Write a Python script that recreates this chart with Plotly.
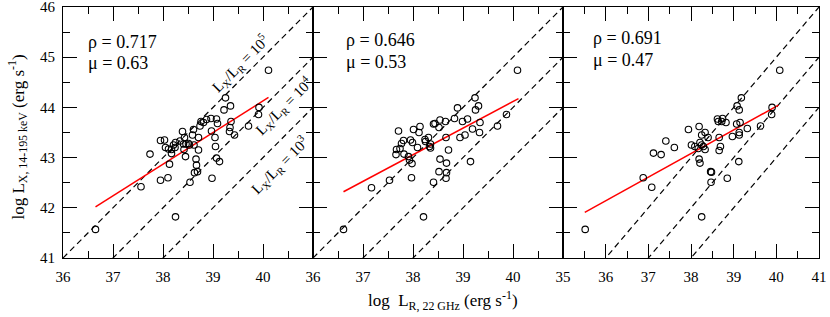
import plotly.graph_objects as go

# ---------------- data ----------------
x1 = [40.11, 39.25, 39.35, 39.22, 39.92, 39.91, 39.71, 39.36, 39.34, 39.33, 39.43, 38.76, 38.81, 38.87, 38.96,
      39.07, 39.09, 38.74, 38.61, 38.97, 38.39, 38.59, 38.71, 39.04, 37.95, 38.03, 38.25, 38.34, 38.43, 38.41,
      38.46, 38.51, 38.05, 38.11, 38.17, 38.24, 38.21, 38.42, 38.53, 38.62, 38.71, 39.05, 37.74, 38.17, 38.45,
      38.66, 39.07, 39.13, 38.13, 38.67, 38.63, 38.69, 37.95, 38.10, 38.54, 38.98, 37.56, 36.65, 38.25]
y1 = [44.74, 44.19, 44.03, 43.95, 44.00, 43.86, 43.63, 43.72, 43.60, 43.52, 43.45, 43.72, 43.70, 43.76, 43.78,
      43.77, 43.68, 43.63, 43.56, 43.53, 43.52, 43.45, 43.40, 43.40, 43.34, 43.35, 43.30, 43.33, 43.40, 43.27,
      43.27, 43.28, 43.20, 43.17, 43.16, 43.20, 43.25, 43.16, 43.25, 43.25, 43.15, 43.22, 43.07, 43.08, 43.02,
      42.97, 42.99, 42.92, 42.87, 42.85, 42.70, 42.72, 42.55, 42.60, 42.51, 42.59, 42.42, 41.57, 41.82]

x2 = [40.09, 39.24, 39.31, 39.25, 39.87, 39.69, 38.89, 39.09, 38.99, 38.83, 38.65, 38.54, 38.41, 38.44, 38.14,
      38.52, 39.34, 39.19, 39.33, 39.04, 38.94, 38.66, 38.01, 38.12, 37.71, 38.31, 38.24, 38.25, 37.81, 37.77,
      37.95, 37.99, 38.35, 38.33, 38.35, 38.09, 37.67, 37.74, 37.66, 37.82, 37.91, 37.93, 38.71, 37.98, 38.54,
      38.67, 39.15, 38.52, 38.67, 38.66, 37.97, 38.41, 37.53, 37.17, 36.61, 38.21]
y2 = [44.74, 44.19, 44.03, 43.95, 43.86, 43.63, 43.99, 43.77, 43.72, 43.78, 43.72, 43.75, 43.67, 43.68, 43.62,
      43.60, 43.70, 43.57, 43.50, 43.45, 43.40, 43.40, 43.56, 43.50, 43.53, 43.40, 43.36, 43.32, 43.34, 43.28,
      43.35, 43.30, 43.27, 43.22, 43.19, 43.20, 43.16, 43.18, 43.06, 43.07, 43.02, 42.95, 43.15, 42.88, 42.97,
      42.89, 42.92, 42.72, 42.70, 42.59, 42.60, 42.51, 42.55, 42.40, 41.57, 41.82]

x3 = [40.08, 39.18, 39.08, 39.13, 39.90, 39.89, 39.63, 38.62, 38.74, 38.64, 38.82, 38.72, 39.15, 39.07, 39.32,
      39.13, 39.13, 38.97, 38.66, 38.19, 37.94, 38.33, 38.25, 38.40, 37.41, 37.61, 38.01, 38.09, 38.21, 38.25,
      38.29, 38.33, 38.17, 38.69, 38.66, 37.12, 37.30, 38.19, 38.21, 39.12, 38.46, 38.48, 38.85, 38.47, 36.88,
      37.08, 35.52, 38.25]
y3 = [44.74, 44.19, 44.03, 43.95, 44.00, 43.86, 43.63, 43.77, 43.78, 43.72, 43.70, 43.72, 43.70, 43.67, 43.58,
      43.50, 43.45, 43.42, 43.40, 43.62, 43.56, 43.50, 43.45, 43.40, 43.33, 43.20, 43.25, 43.22, 43.30, 43.25,
      43.22, 43.16, 43.18, 43.22, 43.14, 43.09, 43.06, 42.97, 42.89, 42.92, 42.72, 42.71, 42.59, 42.51, 42.60,
      42.41, 41.57, 41.82]

rho = [0.717, 0.646, 0.691]
mu = [0.63, 0.53, 0.47]
fit_x0 = [36.65, 36.61, 35.51]
fit_y0 = [42.02, 42.32, 41.91]
fit_x1 = [40.11, 40.11, 40.05]

ratio_exp = [5, 4, 3]          # L_X / L_R = 10^k  ->  log L_X = log L_R + k
x_ranges = [[36, 41], [36, 41], [35, 41]]
y_range = [41, 46]
x_tickvals = [[36, 37, 38, 39, 40, 41], [36, 37, 38, 39, 40, 41], [35, 36, 37, 38, 39, 40, 41]]
x_ticktext = [["36", "37", "38", "39", "40", ""], ["36", "37", "38", "39", "40", ""],
              ["35", "36", "37", "38", "39", "40", "41"]]
y_tickvals = [41, 42, 43, 44, 45, 46]

xs = [x1, x2, x3]
ys = [y1, y2, y3]

FONT = "Liberation Serif, Times New Roman, serif"

# ---------------- figure ----------------
fig = go.Figure()

for i in range(3):
    xa = "x" if i == 0 else f"x{i+1}"
    ya = "y" if i == 0 else f"y{i+1}"
    lo, hi = x_ranges[i]
    for k in ratio_exp:
        fig.add_trace(go.Scatter(x=[lo, hi], y=[lo + k, hi + k], mode="lines",
                                 line=dict(color="black", width=1.2, dash="6px,4px"),
                                 xaxis=xa, yaxis=ya, hoverinfo="skip"))
    fx = [fit_x0[i], fit_x1[i]]
    fy = [fit_y0[i], fit_y0[i] + mu[i] * (fit_x1[i] - fit_x0[i])]
    fig.add_trace(go.Scatter(x=fx, y=fy, mode="lines", line=dict(color="#ff0000", width=1.5),
                             xaxis=xa, yaxis=ya))
    fig.add_trace(go.Scatter(x=xs[i], y=ys[i], mode="markers",
                             marker=dict(symbol="circle-open", size=6.5, color="black", line=dict(width=1.1)),
                             xaxis=xa, yaxis=ya))

W = 830 - 63 - 11
doms = [[0, 250 / W], [250 / W, 500 / W], [500 / W, 1]]

def minor_vals(lo, hi):
    v = []
    t = lo + 0.5
    while t < hi:
        v.append(t)
        t += 1
    return v

common = dict(showline=True, linecolor="black", linewidth=1.2, mirror="ticks",
              ticks="inside", ticklen=14, tickwidth=1.2, tickcolor="black",
              showgrid=False, zeroline=False, automargin=False, ticklabeloverflow="allow",
              tickfont=dict(family=FONT, size=15, color="black"))

layout = dict(width=830, height=317, margin=dict(l=63, r=11, t=7, b=59, autoexpand=False),
              paper_bgcolor="white", plot_bgcolor="white", showlegend=False)

for i in range(3):
    xk = "xaxis" if i == 0 else f"xaxis{i+1}"
    yk = "yaxis" if i == 0 else f"yaxis{i+1}"
    lo, hi = x_ranges[i]
    layout[xk] = dict(common, domain=doms[i], range=[lo, hi], anchor="y" if i == 0 else f"y{i+1}",
                      tickmode="array", tickvals=x_tickvals[i], ticktext=x_ticktext[i],
                      ticklabelstandoff=5,
                      minor=dict(ticks="inside", ticklen=7, tickwidth=1.2, tickcolor="black",
                                 tickmode="array", tickvals=minor_vals(lo, hi), showgrid=False))
    layout[yk] = dict(common, domain=[0, 1], range=y_range, anchor="x" if i == 0 else f"x{i+1}",
                      tickmode="array", tickvals=y_tickvals, showticklabels=(i == 0),
                      ticklabelstandoff=4,
                      minor=dict(ticks="inside", ticklen=7, tickwidth=1.2, tickcolor="black",
                                 tickmode="array", tickvals=minor_vals(41, 46), showgrid=False))

fig.update_layout(**layout)

# ---------------- annotations ----------------
ann = []
rho_pos = [(36.46, 45.31, 44.88), (36.62, 45.34, 44.91), (35.65, 45.38, 44.94)]
for i in range(3):
    xa = "x" if i == 0 else f"x{i+1}"
    ya = "y" if i == 0 else f"y{i+1}"
    px, ry, my = rho_pos[i]
    ann.append(dict(x=px, y=ry, xref=xa, yref=ya, text=f"ρ = {rho[i]:.3f}", showarrow=False,
                    xanchor="left", yanchor="middle", font=dict(family=FONT, size=18, color="black")))
    ann.append(dict(x=px, y=my, xref=xa, yref=ya, text=f"μ = {mu[i]:.2f}", showarrow=False,
                    xanchor="left", yanchor="middle", font=dict(family=FONT, size=18, color="black")))

label_pos = [(39.54, 44.86), (40.42, 44.03), (40.32, 42.84)]
for k, (lx, ly) in zip(ratio_exp, label_pos):
    ann.append(dict(x=lx, y=ly, xref="x", yref="y",
                    text=f"L<sub>X</sub>/L<sub>R</sub> = 10<sup>{k}</sup>", showarrow=False,
                    textangle=-45, xanchor="center", yanchor="middle",
                    font=dict(family=FONT, size=15, color="black")))

ann.append(dict(x=0.503, y=-0.17, xref="paper", yref="paper",
                text="log\u00a0\u00a0L<sub>R, 22 GHz</sub> (erg s<sup>-1</sup>)", showarrow=False,
                xanchor="center", yanchor="middle", font=dict(family=FONT, size=17, color="black")))
ann.append(dict(x=-0.0595, y=0.48, xref="paper", yref="paper",
                text="log L<sub>X, 14-195 keV</sub> (erg s<sup>-1</sup>)", showarrow=False,
                textangle=-90, xanchor="center", yanchor="middle",
                font=dict(family=FONT, size=17, color="black")))

fig.update_layout(annotations=ann)

fig.write_html("out.html", config={"displayModeBar": False},
               post_script="document.body.style.margin='0px';document.body.style.padding='0px';")
